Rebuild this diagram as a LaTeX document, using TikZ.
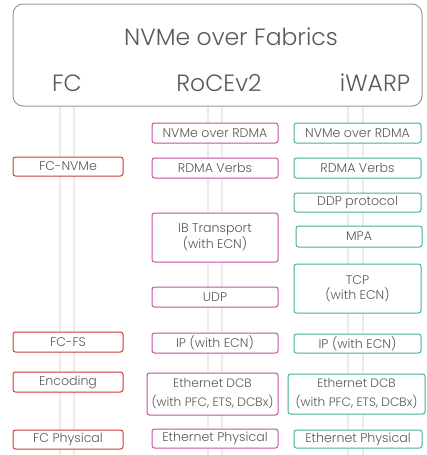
\documentclass[tikz,border=0pt]{standalone}
\usepackage{fontspec}
\setmainfont{Poppins Light}
\begin{document}
\begin{tikzpicture}[x=1pt,y=-1pt,
  txt/.style={text=black!65},
  lay/.style={draw, fill=white, rounded corners=2.5pt, line width=1pt, inner sep=0pt, align=center, txt, font=\fontsize{12.6}{13}\selectfont},
  fcb/.style={lay, draw=fcred},
  rob/.style={lay, draw=romag},
  iwb/.style={lay, draw=iwteal},
  dcb/.style={font=\fontsize{12.2}{19}\selectfont},
  pipe/.style={draw=black!22, line width=0.8pt, rounded corners=3pt, fill=white}
]
\definecolor{fcred}{HTML}{CF3B33}
\definecolor{romag}{HTML}{C64FA6}
\definecolor{iwteal}{HTML}{48B197}
\useasboundingbox (0,0) rectangle (427,455);
% pipes
\draw[pipe] (60,456) -- (60,104) -- (74,104) -- (74,456);
\draw[pipe] (208,456) -- (208,104) -- (222,104) -- (222,456);
\draw[pipe] (348,456) -- (348,104) -- (363,104) -- (363,456);
% header
\node[draw=black!40, line width=1pt, rounded corners=10pt, fill=white, minimum width=409pt, minimum height=102pt, inner sep=0pt] (hdr) at (217.5,55) {};
\node[txt, font=\fontsize{23.5}{26}\selectfont] (title) at (231,37) {NVMe over Fabrics};
\node[txt, font=\fontsize{23.5}{26}\selectfont] (fc) at (67,83) {FC};
\node[txt, font=\fontsize{23.5}{26}\selectfont] (roce) at (219,83) {RoCEv2};
\node[txt, font=\fontsize{23.5}{26}\selectfont] (iwarp) at (375,83) {iWARP};
% FC column
\node[fcb, minimum width=110pt, minimum height=19pt] (fcnvme) at (68,166.5) {FC-NVMe};
\node[fcb, minimum width=110pt, minimum height=20pt] (fcfs) at (68,342) {FC-FS};
\node[fcb, minimum width=110pt, minimum height=20pt] (enc) at (68,382) {Encoding};
\node[fcb, minimum width=110pt, minimum height=19pt] (fcphy) at (68,439.5) {FC Physical};
% RoCEv2 column
\node[rob, minimum width=126pt, minimum height=20pt] (rnvme) at (215,133) {NVMe over RDMA};
\node[rob, minimum width=126pt, minimum height=20pt] (rverbs) at (215,168) {RDMA Verbs};
\node[rob, minimum width=126pt, minimum height=49pt, font=\fontsize{12.6}{15}\selectfont] (ib) at (215,237.5) {IB Transport\\(with ECN)};
\node[rob, minimum width=126pt, minimum height=20pt] (udp) at (215,297) {UDP};
\node[rob, minimum width=126pt, minimum height=20pt] (rip) at (215,343) {IP (with ECN)};
\node[rob, dcb, minimum width=131pt, minimum height=42pt] (rdcb) at (212.5,394) {Ethernet DCB\\(with PFC, ETS, DCBx)};
\node[rob, minimum width=126pt, minimum height=19pt] (rphy) at (215,438.5) {Ethernet Physical};
% iWARP column
\node[iwb, minimum width=127pt, minimum height=20pt] (invme) at (357.5,133) {NVMe over RDMA};
\node[iwb, minimum width=127pt, minimum height=20pt] (iverbs) at (357.5,168) {RDMA Verbs};
\node[iwb, minimum width=127pt, minimum height=19pt] (ddp) at (357.5,202.5) {DDP protocol};
\node[iwb, minimum width=126pt, minimum height=21pt] (mpa) at (359,236.5) {MPA};
\node[iwb, minimum width=127pt, minimum height=49pt, font=\fontsize{12.6}{15}\selectfont] (tcp) at (357.5,288.5) {TCP\\(with ECN)};
\node[iwb, minimum width=127pt, minimum height=19pt] (iip) at (357.5,343.5) {IP (with ECN)};
\node[iwb, dcb, minimum width=137pt, minimum height=40pt] (idcb) at (356.5,394) {Ethernet DCB\\(with PFC, ETS, DCBx)};
\node[iwb, minimum width=128pt, minimum height=18pt] (iphy) at (358,439) {Ethernet Physical};
\end{tikzpicture}
\end{document}
